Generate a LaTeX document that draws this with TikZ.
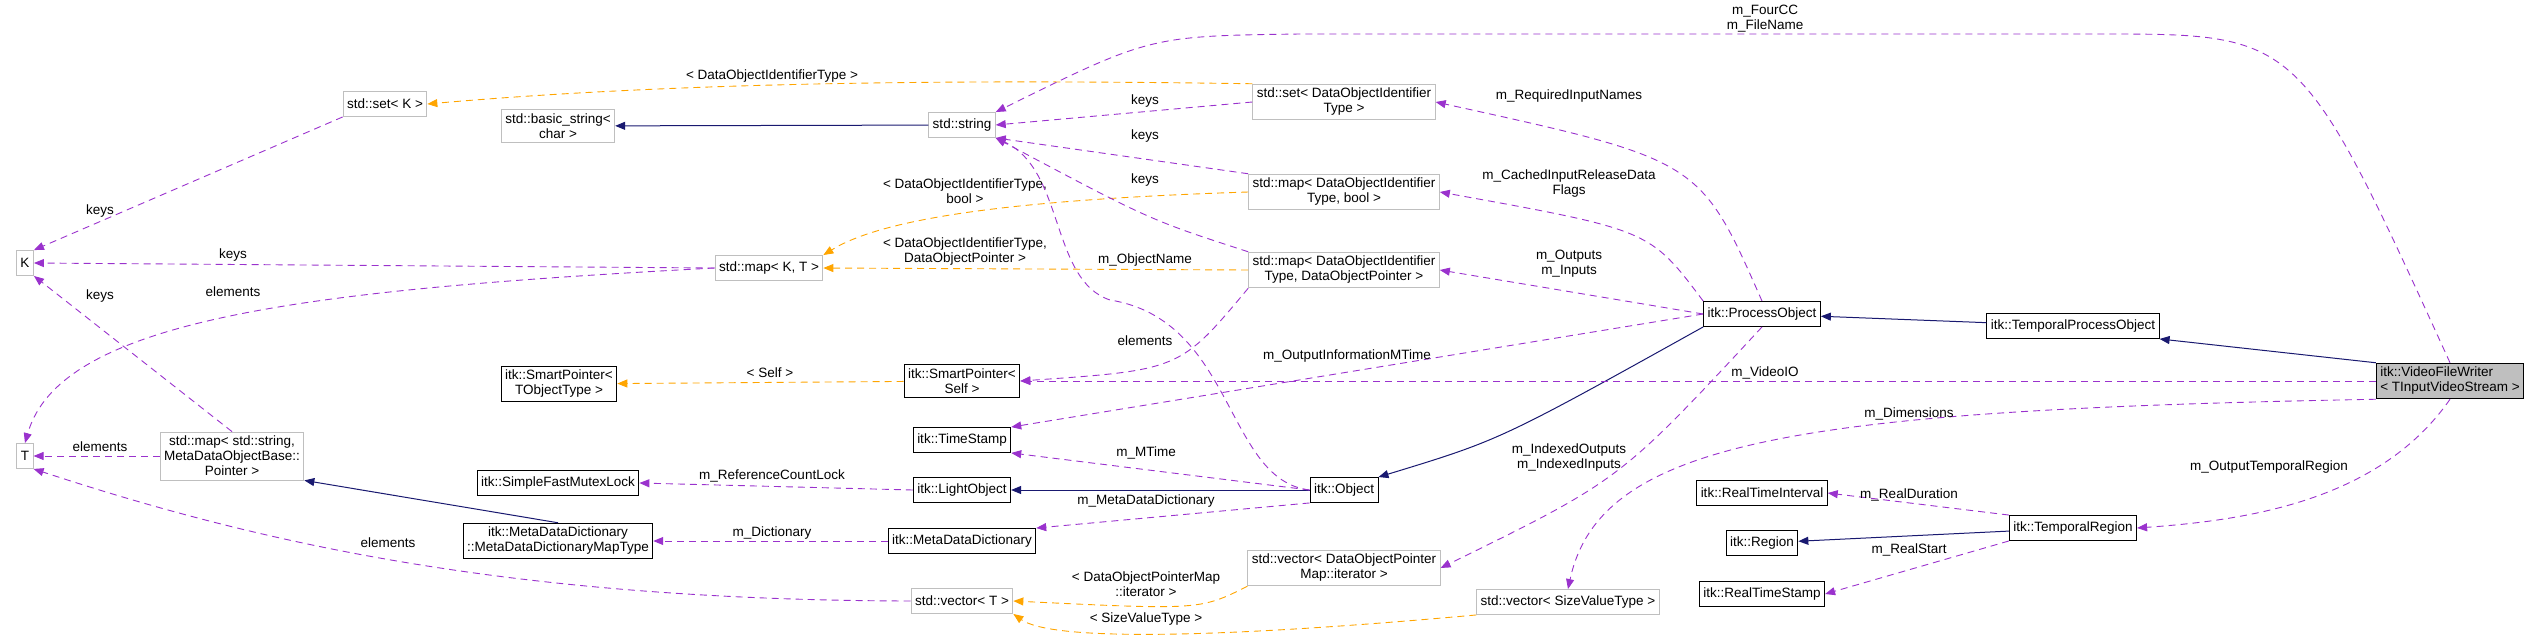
\documentclass[tikz,border=0pt]{standalone}
\usepackage{fontspec}
\setmainfont{Liberation Sans}
\usetikzlibrary{arrows.meta,positioning}
\definecolor{usecol}{HTML}{9A32CD}
\definecolor{tplcol}{HTML}{FFA500}
\definecolor{inhcol}{HTML}{191970}
\definecolor{boxgray}{HTML}{BFBFBF}
\begin{document}
\begin{tikzpicture}[x=1pt, y=-1pt,
  font=\fontsize{13.5}{15}\selectfont,
  cls/.style={rectangle, draw=black, line width=0.9pt, minimum height=25pt, inner sep=4pt, align=center, fill=white},
  ext/.style={cls, draw=boxgray},
  main/.style={cls, fill=black!25},
  lbl/.style={inner sep=1pt, align=center},
  use/.style={draw=usecol, dashed, dash pattern=on 7pt off 5pt, line width=0.9pt, -{Triangle[length=10pt,width=8pt]}},
  tpl/.style={use, draw=tplcol},
  inh/.style={draw=inhcol, line width=1pt, -{Triangle[length=10pt,width=8pt]}}]
\useasboundingbox (0,0) rectangle (2536,640);
% left column
\node[ext] (K) at (25,263) {K};
\node[ext] (T) at (25,456) {T};
\node[ext] (setK) at (385,104) {std::set\textless{} K \textgreater};
\node[ext] (mapKT) at (769,268) {std::map\textless{} K, T \textgreater};
\node[ext] (mapstr) at (232,456) {std::map\textless{} std::string,\\MetaDataObjectBase::\\Pointer \textgreater};
\node[ext] (bstr) at (558,126) {std::basic\_string\textless\\char \textgreater};
\node[cls] (spT) at (559,384) {itk::SmartPointer\textless\\TObjectType \textgreater};
\node[cls] (mutex) at (558,483) {itk::SimpleFastMutexLock};
\node[cls] (mdmap) at (558,541) {itk::MetaDataDictionary\\::MetaDataDictionaryMapType};
% middle column
\node[ext] (str) at (962,125) {std::string};
\node[cls] (spS) at (962,381) {itk::SmartPointer\textless\\Self \textgreater};
\node[cls] (ts) at (962,440) {itk::TimeStamp};
\node[cls] (light) at (962,490) {itk::LightObject};
\node[cls] (mdd) at (962,541) {itk::MetaDataDictionary};
\node[ext] (vecT) at (962,601) {std::vector\textless{} T \textgreater};
\node[ext] (setD) at (1344,102) {std::set\textless{} DataObjectIdentifier\\Type \textgreater};
\node[ext] (mapDb) at (1344,192) {std::map\textless{} DataObjectIdentifier\\Type, bool \textgreater};
\node[ext] (mapDP) at (1344,270) {std::map\textless{} DataObjectIdentifier\\Type, DataObjectPointer \textgreater};
\node[cls] (obj) at (1344,490) {itk::Object};
\node[ext] (vecIt) at (1344,568) {std::vector\textless{} DataObjectPointer\\Map::iterator \textgreater};
\node[ext] (vecSz) at (1568,602) {std::vector\textless{} SizeValueType \textgreater};
% right part
\node[cls] (proc) at (1762,314) {itk::ProcessObject};
\node[cls] (rti) at (1762,493) {itk::RealTimeInterval};
\node[cls] (reg) at (1762,543) {itk::Region};
\node[cls] (rts) at (1762,594) {itk::RealTimeStamp};
\node[cls] (tproc) at (2073,326) {itk::TemporalProcessObject};
\node[cls] (treg) at (2073,528) {itk::TemporalRegion};
\node[main, align=left] (vfw) at (2450,381) {itk::VideoFileWriter\\\textless{} TInputVideoStream \textgreater};
% inheritance
\draw[inh] (str) -- (bstr);
\draw[inh] (mdmap.north) -- (mapstr.south east);
\draw[inh] (obj) -- (light);
\draw[inh] (proc.south west) .. controls (1500,440) .. (obj.north east);
\draw[inh] (tproc) -- (proc);
\draw[inh] (vfw.north west) -- (tproc.south east);
\draw[inh] (treg) -- (reg);
% template instances
\draw[tpl] (setD.north west) .. controls (1000,80) and (700,80) .. (setK.east) node[lbl] at (772,76) {\textless{} DataObjectIdentifierType \textgreater};
\draw[tpl] (mapDb.west) .. controls (1000,200) and (880,220) .. (mapKT.north east) node[lbl] at (965,191) {\textless{} DataObjectIdentifierType,\\bool \textgreater};
\draw[tpl] (mapDP.west) -- (mapKT.east) node[lbl] at (965,252) {\textless{} DataObjectIdentifierType,\\DataObjectPointer \textgreater};
\draw[tpl] (spS) -- (spT) node[lbl] at (770,373) {\textless{} Self \textgreater};
\draw[tpl] (vecIt.south west) .. controls (1200,610) .. (vecT.east) node[lbl] at (1146,584) {\textless{} DataObjectPointerMap\\::iterator \textgreater};
\draw[tpl] (vecSz.south west) .. controls (1200,640) and (1050,640) .. (vecT.south east) node[lbl] at (1146,619) {\textless{} SizeValueType \textgreater};
% usage
\draw[use] (setK.south west) -- (K.north east) node[lbl] at (100,211) {keys};
\draw[use] (mapKT.west) -- (K.east) node[lbl] at (233,255) {keys};
\draw[use] (mapKT.west) .. controls (300,290) and (60,320) .. (T.north) node[lbl] at (233,292) {elements};
\draw[use] (mapstr.north) -- (K.south east) node[lbl] at (100,296) {keys};
\draw[use] (mapstr.west) -- (T.east) node[lbl] at (100,447) {elements};
\draw[use] (vecT.west) .. controls (500,600) and (250,540) .. (T.south east) node[lbl] at (388,543) {elements};
\draw[use] (light.west) -- (mutex.east) node[lbl] at (772,476) {m\_ReferenceCountLock};
\draw[use] (mdd.west) -- (mdmap.east) node[lbl] at (772,533) {m\_Dictionary};
\draw[use] (setD.west) -- (str.east) node[lbl] at (1145,101) {keys};
\draw[use] (mapDb.north west) -- (str.south east) node[lbl] at (1145,136) {keys};
\draw[use] (mapDP.north west) .. controls (1150,220) .. (str.south east) node[lbl] at (1145,180) {keys};
\draw[use] (obj.west) .. controls (1225,480) and (1235,320) .. (1110,300) .. controls (1050,280) and (1065,170) .. (str.south east) node[lbl] at (1145,260) {m\_ObjectName};
\draw[use] (mapDP.south west) .. controls (1180,370) .. (spS.east) node[lbl] at (1145,341) {elements};
\draw[use] (proc.west) -- (ts.north east) node[lbl] at (1347,356) {m\_OutputInformationMTime};
\draw[use] (obj.west) -- (ts.south east) node[lbl] at (1146,453) {m\_MTime};
\draw[use] (obj.south west) -- (mdd.north east) node[lbl] at (1146,501) {m\_MetaDataDictionary};
\draw[use] (proc.north) .. controls (1700,160) .. (setD.east) node[lbl] at (1569,96) {m\_RequiredInputNames};
\draw[use] (proc.north west) .. controls (1650,230) .. (mapDb.east) node[lbl] at (1569,184) {m\_CachedInputReleaseData\\Flags};
\draw[use] (proc.west) -- (mapDP.east) node[lbl] at (1569,264) {m\_Outputs\\m\_Inputs};
\draw[use] (proc.south) .. controls (1620,480) .. (vecIt.east) node[lbl] at (1569,458) {m\_IndexedOutputs\\m\_IndexedInputs};
\draw[use] (vfw.north) .. controls (2300,34) .. (2100,34) -- (1300,34) .. controls (1150,36) .. (str.north east) node[lbl] at (1765,19) {m\_FourCC\\m\_FileName};
\draw[use] (vfw.west) -- (spS.east) node[lbl] at (1765,373) {m\_VideoIO};
\draw[use] (vfw.south west) .. controls (1800,410) and (1600,440) .. (vecSz.north) node[lbl] at (1909,414) {m\_Dimensions};
\draw[use] (vfw.south) .. controls (2380,500) and (2250,520) .. (treg.east) node[lbl] at (2269,467) {m\_OutputTemporalRegion};
\draw[use] (treg.north west) -- (rti.east) node[lbl] at (1909,495) {m\_RealDuration};
\draw[use] (treg.south west) -- (rts.east) node[lbl] at (1909,550) {m\_RealStart};
\end{tikzpicture}
\end{document}
